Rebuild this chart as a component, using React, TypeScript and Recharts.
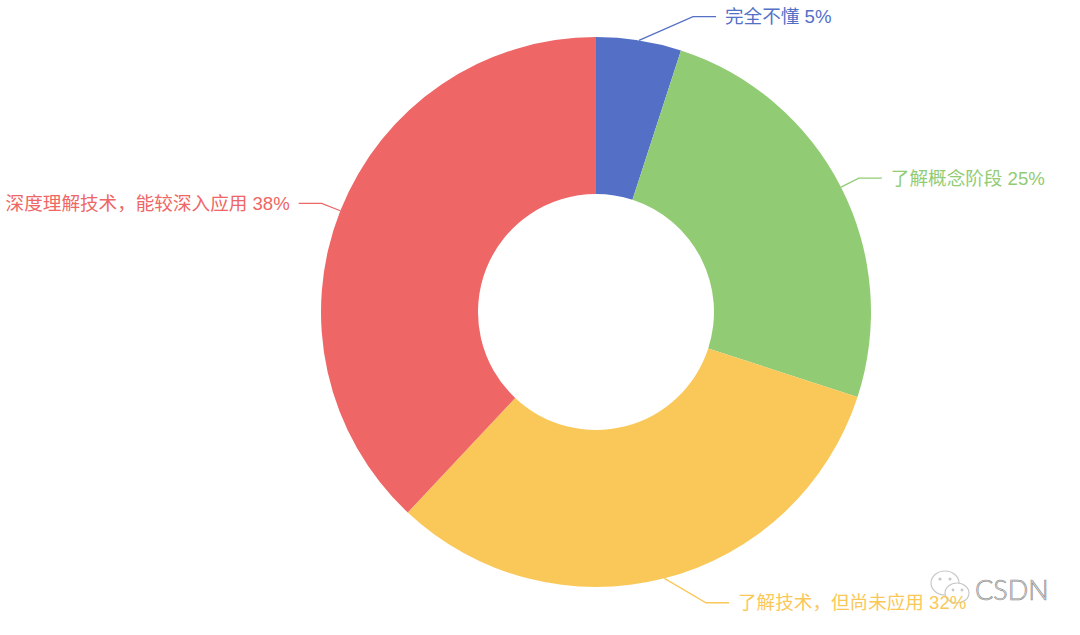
import React from "react";
import { PieChart, Pie, Cell } from "recharts";

const categories = ["完全不懂", "了解概念阶段", "了解技术，但尚未应用", "深度理解技术，能较深入应用"];
const values = [5, 25, 32, 38];
const colors = ["#5470c6", "#91cc75", "#fac858", "#ee6666"];

const data = categories.map((name, i) => ({ name, value: values[i] }));

const RADIAN = Math.PI / 180;
const LINE1 = 20;
const LINE2 = 23;
const GAP = 9;
const MIN_DX_TOP = 97;
const MIN_DX_BOTTOM = 110;

const renderLabel = (props: any) => {
  const { cx, cy, midAngle, outerRadius, name, value, index } = props;
  const cos = Math.cos(-midAngle * RADIAN);
  const sin = Math.sin(-midAngle * RADIAN);
  const sx = cx + outerRadius * cos;
  const sy = cy + outerRadius * sin;
  let ex = cx + (outerRadius + LINE1) * cos;
  let ey = cy + (outerRadius + LINE1) * sin;
  const right = cos >= 0;
  const top = sin < 0;
  const minDx = top ? MIN_DX_TOP : MIN_DX_BOTTOM;
  // keep labels near the top/bottom away from the vertical axis (echarts-like layout)
  if (Math.abs(ex - cx) < minDx) {
    ex = cx + (right ? 1 : -1) * minDx;
    ey = ey + (top ? -4 : 5);
  }
  const hx = ex + (right ? LINE2 : -LINE2);
  const tx = hx + (right ? GAP : -GAP);
  const color = colors[index % colors.length];
  return (
    <g>
      <polyline
        points={`${sx},${sy} ${ex},${ey} ${hx},${ey}`}
        fill="none"
        stroke={color}
        strokeWidth={1.3}
      />
      <text
        x={tx}
        y={ey}
        fill={color}
        textAnchor={right ? "start" : "end"}
        dominantBaseline="central"
        fontSize={18.6}
        fontFamily="'Liberation Sans', 'Noto Sans CJK SC', sans-serif"
      >
        {`${name} ${value}%`}
      </text>
    </g>
  );
};

export default function App() {
  return (
    <div style={{ position: "absolute", left: 0, top: 0, width: 1080, height: 635, background: "#fff" }}>
      <PieChart width={1080} height={635} margin={{ top: 0, right: 0, bottom: 0, left: 0 }}>
        <Pie
          data={data}
          dataKey="value"
          nameKey="name"
          cx={596}
          cy={312}
          innerRadius={118}
          outerRadius={275}
          startAngle={90}
          endAngle={-270}
          stroke="none"
          label={renderLabel}
          labelLine={false}
          isAnimationActive={false}
        >
          {data.map((d, i) => (
            <Cell key={d.name} fill={colors[i]} />
          ))}
        </Pie>
        <g>
          <ellipse cx={945} cy={583} rx={14} ry={12} fill="#fff" stroke="#c8c8c8" strokeWidth={1.2} />
          <circle cx={940} cy={579} r={1.6} fill="#c8c8c8" />
          <circle cx={950} cy={579} r={1.6} fill="#c8c8c8" />
          <ellipse cx={957} cy={593} rx={12} ry={10} fill="#fff" stroke="#c8c8c8" strokeWidth={1.2} />
          <circle cx={953} cy={590} r={1.4} fill="#c8c8c8" />
          <circle cx={962} cy={590} r={1.4} fill="#c8c8c8" />
          <text
            x={975}
            y={600}
            fontSize={27}
            fontWeight={300}
            fill="#f4f4f4"
            stroke="#8c8c8c"
            strokeWidth={0.7}
            fontFamily="Lato, 'Liberation Sans', sans-serif"
          >
            CSDN
          </text>
        </g>
      </PieChart>
    </div>
  );
}
